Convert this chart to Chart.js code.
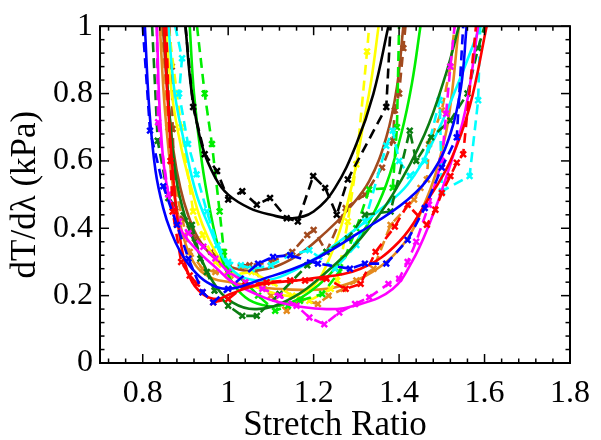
<!DOCTYPE html>
<html lang="en">
    <head>
        <meta charset="UTF-8" />
        <title>Stretch ratio</title>
        <script src="https://cdn.jsdelivr.net/npm/chart.js@4.4.1/dist/chart.umd.min.js"></script>
        <style>
            html, body { margin: 0; padding: 0; background: #fff; }
            #wrap { width: 601px; height: 440px; }
        </style>
    </head>

    <body>
        <div id="wrap"><canvas id="myChart" width="601" height="440"></canvas></div>
    </body>

    <script>
        // axis ticks
        const xMajor = [0.8, 1, 1.2, 1.4, 1.6, 1.8];
        const yMajor = [0, 0.2, 0.4, 0.6, 0.8, 1];
        const minorStep = 0.04;

        // fitted curves (solid) and measured points (dashed, x marks), [stretch, dT/dlambda]
        const blackFit = [[0.9,1.0],[0.915,0.8],[0.94,0.64],[0.97,0.55],[1.0,0.5],[1.05,0.46],[1.1,0.44],[1.15,0.43],[1.2,0.45],[1.25,0.52],[1.3,0.65],[1.34,0.8],[1.375,1.0]];
        const blackData = [[0.9,1.0],[0.918,0.76],[0.945,0.62],[0.974,0.57],[1.0,0.485],[1.033,0.51],[1.067,0.47],[1.098,0.49],[1.137,0.43],[1.163,0.42],[1.199,0.555],[1.227,0.52],[1.254,0.44],[1.28,0.545],[1.37,0.76],[1.38,1.0]];

        const blueFit = [[0.805,1.0],[0.815,0.76],[0.83,0.57],[0.848,0.46],[0.866,0.39],[0.888,0.33],[0.912,0.285],[0.95,0.24],[1.0,0.22],[1.07,0.245],[1.19,0.3],[1.31,0.39],[1.42,0.485],[1.48,0.57],[1.52,0.68],[1.545,0.82],[1.558,1.0]];
        const blueData = [[0.8,1.0],[0.817,0.69],[0.848,0.525],[0.88,0.41],[0.907,0.31],[0.94,0.21],[0.965,0.18],[1.0,0.22],[1.07,0.295],[1.105,0.315],[1.145,0.32],[1.21,0.295],[1.285,0.28],[1.32,0.295],[1.37,0.295],[1.42,0.365],[1.46,0.46],[1.5,0.58],[1.535,0.67],[1.55,1.0]];

        const redFit = [[0.85,1.0],[0.86,0.75],[0.875,0.5],[0.89,0.35],[0.91,0.255],[0.94,0.205],[0.975,0.19],[1.005,0.205],[1.07,0.232],[1.19,0.25],[1.31,0.28],[1.4,0.36],[1.465,0.48],[1.52,0.6],[1.565,0.76],[1.605,1.0]];
        const redData = [[0.855,1.0],[0.865,0.6],[0.87,0.45],[0.89,0.3],[0.91,0.26],[0.927,0.235],[0.94,0.21],[0.965,0.18],[1.0,0.19],[1.04,0.23],[1.09,0.24],[1.145,0.245],[1.18,0.245],[1.23,0.25],[1.275,0.22],[1.31,0.235],[1.345,0.33],[1.39,0.405],[1.42,0.47],[1.465,0.41],[1.485,0.455],[1.5,0.505],[1.52,0.555],[1.535,0.595],[1.55,0.62],[1.58,1.0]];

        const magentaFit = [[0.833,1.0],[0.842,0.7],[0.86,0.5],[0.887,0.4],[0.927,0.335],[0.974,0.28],[1.01,0.24],[1.065,0.205],[1.12,0.18],[1.23,0.16],[1.31,0.175],[1.385,0.22],[1.43,0.3],[1.47,0.41],[1.51,0.55],[1.555,0.75],[1.585,1.0]];
        const magentaData = [[0.833,1.0],[0.836,0.715],[0.86,0.5],[0.885,0.42],[0.907,0.385],[0.942,0.345],[0.97,0.31],[1.0,0.27],[1.04,0.24],[1.08,0.22],[1.12,0.2],[1.16,0.17],[1.19,0.135],[1.225,0.115],[1.26,0.15],[1.297,0.175],[1.33,0.195],[1.375,0.235],[1.4,0.25],[1.42,0.3],[1.44,0.36],[1.47,0.47],[1.5,0.6],[1.51,0.74],[1.52,0.88],[1.53,1.0]];

        const dkgreenFit = [[0.85,1.0],[0.862,0.75],[0.878,0.55],[0.9,0.43],[0.927,0.34],[0.965,0.24],[1.01,0.18],[1.067,0.16],[1.145,0.19],[1.23,0.27],[1.31,0.37],[1.385,0.5],[1.46,0.68],[1.51,0.86],[1.54,1.0]];
        const dkgreenData = [[0.822,1.0],[0.835,0.66],[0.86,0.49],[0.915,0.41],[0.935,0.31],[0.95,0.27],[0.968,0.215],[1.0,0.17],[1.033,0.14],[1.067,0.14],[1.12,0.205],[1.185,0.29],[1.23,0.33],[1.28,0.37],[1.32,0.44],[1.38,0.45],[1.425,0.69],[1.44,0.6],[1.475,0.67],[1.52,0.72],[1.56,0.8],[1.585,0.935],[1.6,1.0]];

        const cyanFit = [[0.86,1.0],[0.875,0.8],[0.898,0.65],[0.926,0.5],[0.957,0.4],[0.98,0.33],[1.0,0.29],[1.03,0.257],[1.07,0.245],[1.12,0.255],[1.19,0.3],[1.27,0.37],[1.35,0.45],[1.42,0.53],[1.48,0.66],[1.535,0.82],[1.59,1.0]];
        const cyanData = [[0.876,1.0],[0.892,0.905],[0.885,0.8],[0.906,0.65],[0.926,0.56],[0.95,0.45],[0.975,0.35],[1.0,0.3],[1.03,0.29],[1.055,0.28],[1.1,0.29],[1.145,0.32],[1.19,0.335],[1.25,0.28],[1.3,0.35],[1.32,0.42],[1.37,0.645],[1.385,0.69],[1.4,0.6],[1.425,0.555],[1.46,0.6],[1.495,0.78],[1.5,0.51],[1.565,0.555],[1.585,0.78],[1.59,1.0]];

        const limeFit = [[0.91,1.0],[0.92,0.8],[0.938,0.6],[0.958,0.45],[0.978,0.34],[1.005,0.25],[1.04,0.195],[1.08,0.172],[1.12,0.17],[1.19,0.21],[1.27,0.31],[1.33,0.42],[1.37,0.53],[1.405,0.68],[1.43,0.83],[1.45,1.0]];
        const limeData = [[0.927,1.0],[0.945,0.8],[0.962,0.65],[0.98,0.45],[0.99,0.33],[1.0,0.28],[1.04,0.24],[1.07,0.2],[1.11,0.155],[1.14,0.17],[1.168,0.185],[1.22,0.205],[1.26,0.27],[1.3,0.4],[1.33,0.515],[1.385,0.52],[1.395,0.7],[1.4,1.0]];

        const yellowFit = [[0.854,1.0],[0.868,0.8],[0.89,0.64],[0.918,0.5],[0.94,0.41],[0.97,0.33],[1.0,0.28],[1.05,0.235],[1.1,0.21],[1.15,0.2],[1.2,0.23],[1.24,0.32],[1.27,0.43],[1.295,0.56],[1.315,0.7],[1.335,0.84],[1.352,1.0]];
        const yellowData = [[0.86,1.0],[0.89,0.7],[0.918,0.45],[0.94,0.38],[0.97,0.3],[1.0,0.26],[1.055,0.27],[1.1,0.24],[1.15,0.2],[1.19,0.185],[1.24,0.22],[1.255,0.245],[1.28,0.42],[1.3,0.59],[1.325,0.925],[1.33,1.0]];

        const brownFit = [[0.847,1.0],[0.858,0.8],[0.872,0.63],[0.888,0.52],[0.906,0.44],[0.93,0.37],[0.965,0.315],[1.005,0.285],[1.07,0.275],[1.15,0.31],[1.23,0.39],[1.28,0.455],[1.33,0.54],[1.37,0.67],[1.395,0.82],[1.41,1.0]];
        const brownData = [[0.862,1.0],[0.868,0.88],[0.87,0.695],[0.876,0.45],[0.91,0.41],[0.922,0.37],[0.96,0.33],[1.0,0.29],[1.05,0.29],[1.1,0.3],[1.15,0.33],[1.185,0.38],[1.2,0.395],[1.23,0.33],[1.275,0.46],[1.32,0.5],[1.36,0.58],[1.385,0.66],[1.39,0.75],[1.4,0.8],[1.41,0.935],[1.415,1.0]];

        const orangeFit = [[0.84,1.0],[0.852,0.75],[0.87,0.53],[0.888,0.41],[0.907,0.33],[0.93,0.28],[0.965,0.25],[1.005,0.24],[1.07,0.225],[1.15,0.218],[1.23,0.22],[1.3,0.245],[1.37,0.3],[1.42,0.37],[1.455,0.46],[1.485,0.56],[1.515,0.72],[1.54,1.0]];
        const orangeData = [[0.845,1.0],[0.86,0.7],[0.88,0.5],[0.91,0.33],[0.94,0.28],[0.97,0.27],[1.005,0.26],[1.03,0.285],[1.06,0.28],[1.1,0.2],[1.137,0.155],[1.17,0.19],[1.21,0.175],[1.235,0.2],[1.27,0.22],[1.3,0.245],[1.34,0.28],[1.38,0.41],[1.435,0.485],[1.45,0.52],[1.465,0.545],[1.47,0.65],[1.5,0.75],[1.52,0.88],[1.53,1.0]];

        const series = [
            ["#000000", blackFit, blackData],
            ["#0000ff", blueFit, blueData],
            ["#ff0000", redFit, redData],
            ["#ff00ff", magentaFit, magentaData],
            ["#0b7d12", dkgreenFit, dkgreenData],
            ["#00ffff", cyanFit, cyanData],
            ["#00ee00", limeFit, limeData],
            ["#ffff00", yellowFit, yellowData],
            ["#a24a1e", brownFit, brownData],
            ["#e48a1e", orangeFit, orangeData],
        ];

        const near = (v, list) => list.some((m) => Math.abs(v - m) < 1e-6);
        const toXY = (arr) => arr.map((p) => ({ x: p[0], y: p[1] }));

        function minorTicks(from, to) {
            const out = [];
            const n = Math.round((to - from) / minorStep);
            for (let i = 0; i <= n; i++) out.push({ value: +(from + i * minorStep).toFixed(4) });
            return out;
        }

        const datasets = [];
        series.forEach(([color, fit, data]) => {
            datasets.push({
                data: toXY(fit),
                borderColor: color,
                borderWidth: 2.6,
                pointRadius: 0,
                tension: 0.4,
                fill: false,
            });
            datasets.push({
                data: toXY(data),
                borderColor: color,
                backgroundColor: color,
                borderWidth: 2.6,
                borderDash: [10, 6],
                tension: 0,
                pointStyle: "crossRot",
                pointRadius: (c) => (c.raw && c.raw.y >= 1 ? 0 : 4),
                pointBorderWidth: 2.5,
                fill: false,
            });
        });

        // box round the plot with inward ticks, like the original figure
        const frame = {
            id: "frame",
            afterDatasetsDraw(chart) {
                const { ctx, chartArea: a, scales } = chart;
                const line = (x1, y1, x2, y2) => {
                    ctx.beginPath();
                    ctx.moveTo(x1, y1);
                    ctx.lineTo(x2, y2);
                    ctx.stroke();
                };
                ctx.save();
                ctx.strokeStyle = "#000";
                ctx.lineWidth = 1.5;
                scales.x.ticks.forEach((t) => {
                    const px = scales.x.getPixelForValue(t.value);
                    const L = near(t.value, xMajor) ? 9 : 4.5;
                    line(px, a.bottom, px, a.bottom - L);
                    line(px, a.top, px, a.top + L);
                });
                scales.y.ticks.forEach((t) => {
                    const py = scales.y.getPixelForValue(t.value);
                    const L = near(t.value, yMajor) ? 9 : 4.5;
                    line(a.left, py, a.left + L, py);
                    line(a.right, py, a.right - L, py);
                });
                ctx.lineWidth = 2;
                ctx.strokeRect(a.left, a.top, a.right - a.left, a.bottom - a.top);
                ctx.restore();
            },
        };

        const serif = "'Liberation Serif', 'Times New Roman', serif";

        new Chart("myChart", {
            type: "line",
            data: { datasets: datasets },
            plugins: [frame],
            options: {
                responsive: false,
                animation: false,
                events: [],
                layout: { padding: { left: 0, right: 31, top: 21, bottom: 0 } },
                plugins: { legend: { display: false }, tooltip: { enabled: false } },
                scales: {
                    x: {
                        type: "linear",
                        min: 0.7,
                        max: 1.8,
                        afterBuildTicks: (s) => { s.ticks = minorTicks(0.72, 1.8); },
                        afterFit: (s) => { s.height = 77; },
                        grid: { display: false, drawTicks: false },
                        border: { display: false },
                        ticks: {
                            autoSkip: false,
                            maxRotation: 0,
                            padding: 11,
                            color: "#000",
                            font: { family: serif, size: 32 },
                            callback: (v) => (near(v, xMajor) ? String(Math.round(v * 10) / 10) : ""),
                        },
                        title: {
                            display: true,
                            text: "Stretch Ratio",
                            color: "#000",
                            padding: 0,
                            font: { family: serif, size: 35, lineHeight: 0.8 },
                        },
                    },
                    y: {
                        type: "linear",
                        min: 0,
                        max: 1,
                        afterBuildTicks: (s) => { s.ticks = minorTicks(0, 1); },
                        afterFit: (s) => { s.width = 100; },
                        grid: { display: false, drawTicks: false },
                        border: { display: false },
                        ticks: {
                            autoSkip: false,
                            padding: 7,
                            color: "#000",
                            font: { family: serif, size: 32 },
                            callback: (v) => (near(v, yMajor) ? String(Math.round(v * 10) / 10) : ""),
                        },
                        title: {
                            display: true,
                            text: "dT/dλ (kPa)",
                            color: "#000",
                            padding: { top: 8, bottom: 0 },
                            font: { family: serif, size: 35, lineHeight: 1.0 },
                        },
                    },
                },
            },
        });
    </script>
</html>
